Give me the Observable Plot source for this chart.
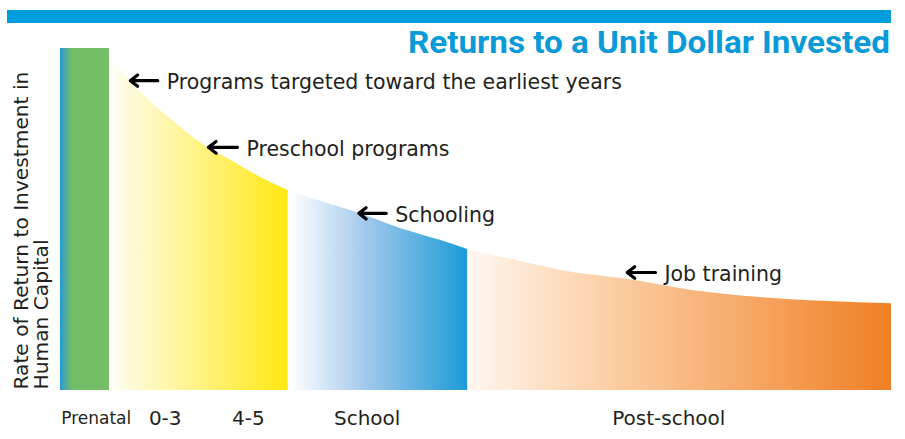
<!DOCTYPE html>
<html><head><meta charset="utf-8">
<script src="https://cdn.jsdelivr.net/npm/d3@7"></script>
<script src="https://cdn.jsdelivr.net/npm/@observablehq/plot@0.6"></script>
<style>
body{margin:0;background:#fff;}
#wrap{position:relative;width:905px;height:439px;overflow:hidden;}
#chart{position:absolute;left:0;top:0;}
#bar{position:absolute;left:7px;top:10px;width:884px;height:13px;background:#009ddc;}
#title{position:absolute;left:0;top:0;}
</style></head><body>
<div id="wrap">
<div id="chart"></div>
<div id="bar"></div>
<svg id="title" width="905" height="60"><text x="408" y="53" textLength="482" lengthAdjust="spacingAndGlyphs" font-family="Roboto" font-weight="bold" font-size="31" fill="#0a9ad8">Returns to a Unit Dollar Invested</text></svg>
</div>
<script>
// Stage position units (0–100 along the life cycle axis) and rate of return (0–100)
const prenatalStart = 0, prenatalEnd = 5.9, prenatalValue = 100;
const earlyX = [5.95, 7.2, 8.4, 10.8, 13.2, 16.8, 20.5, 24.1, 27.4];
const earlyY = [97.4, 93.6, 90.4, 84.5, 79.5, 72.5, 67.3, 62.3, 58.5];
const schoolX = [27.7, 31.3, 35.9, 40.9, 45.7, 49.0];
const schoolY = [58.2, 55.3, 51.8, 47.4, 43.9, 41.2];
const postX = [49.3, 55.4, 60.2, 68.2, 76.2, 84.2, 92.3, 100];
const postY = [40.9, 37.7, 35.1, 32.5, 29.2, 27.2, 26.0, 25.4];

const stageLabels = ["Prenatal", "0-3", "4-5", "School", "Post-school"];
const stageLabelX = [4.3, 12.6, 22.6, 36.9, 73.2];
const stageLabelSize = [17, 20, 20, 20, 20];

const annotations = ["Programs targeted toward the earliest years", "Preschool programs", "Schooling", "Job training"];
const arrowTipX = [8.4, 17.8, 35.9, 68.2];
const arrowTailX = [11.7, 21.3, 39.2, 71.6];
const arrowY = [90.6, 71.1, 51.8, 34.5];

const yTitle = "Rate of Return to Investment in\nHuman Capital";

const toRows = (xs, ys) => xs.map((x, i) => ({x, y: ys[i]}));
const early = toRows(earlyX, earlyY);
const school = toRows(schoolX, schoolY);
const post = toRows(postX, postY);
const notes = annotations.map((t, i) => ({t, x1: arrowTailX[i], x2: arrowTipX[i], y: arrowY[i]}));
const labels = stageLabels.map((t, i) => ({t, x: stageLabelX[i], s: stageLabelSize[i]}));

const font = "DejaVu Sans";
const ink = "#231f20";

const chart = Plot.plot({
  width: 905, height: 439,
  marginLeft: 60, marginRight: 14, marginTop: 48, marginBottom: 49,
  x: {domain: [0, 100], axis: null},
  y: {domain: [0, 100], axis: null},
  style: {overflow: "visible", background: "transparent"},
  marks: [
    Plot.rect([{x1: prenatalStart, x2: prenatalEnd, y: prenatalValue}], {x1: "x1", x2: "x2", y1: 0, y2: "y", fill: "url(#gGreen)"}),
    Plot.areaY(early, {x: "x", y: "y", fill: "url(#gYellow)", curve: "monotone-x"}),
    Plot.areaY(school, {x: "x", y: "y", fill: "url(#gBlue)", curve: "monotone-x"}),
    Plot.areaY(post, {x: "x", y: "y", fill: "url(#gOrange)", curve: "monotone-x"}),
    Plot.arrow(notes, {x1: "x1", x2: "x2", y1: "y", y2: "y", stroke: "#000", strokeWidth: 3.2, headLength: 10, headAngle: 75}),
    Plot.text(notes, {x: "x1", y: "y", text: "t", textAnchor: "start", dx: 9, dy: 2, fontSize: 20.5, fontFamily: font, fill: ink}),
    Plot.text(labels.filter(d => d.s === 17), {x: "x", y: 0, text: "t", lineAnchor: "bottom", dy: 33, fontSize: 17, fontFamily: font, fill: ink}),
    Plot.text(labels.filter(d => d.s !== 17), {x: "x", y: 0, text: "t", lineAnchor: "bottom", dy: 34, fontSize: 20, fontFamily: font, fill: ink}),
    Plot.text([yTitle], {frameAnchor: "bottom-left", text: d => d, rotate: -90, textAnchor: "start", lineAnchor: "top", dx: -47, dy: -1, fontSize: 20.2, lineHeight: 1.0, fontFamily: font, fill: ink})
  ]
});

const defs = d3.select(chart).insert("defs", ":first-child");
function grad(id, stops) {
  const g = defs.append("linearGradient").attr("id", id).attr("x1", 0).attr("x2", 1).attr("y1", 0).attr("y2", 0);
  stops.forEach(([o, c]) => g.append("stop").attr("offset", o).attr("stop-color", c));
}
grad("gGreen", [[0, "#1b98d8"], [0.06, "#3fa3b8"], [0.25, "#74be67"], [1, "#74be68"]]);
grad("gYellow", [[0, "#ffffff"], [0.08, "#fffbe2"], [0.55, "#fff17a"], [1, "#ffe80f"]]);
grad("gBlue", [[0, "#ffffff"], [0.45, "#9dc6ea"], [1, "#1c9bd7"]]);
grad("gOrange", [[0, "#fff6ef"], [0.3, "#fcd2ab"], [1, "#f07f23"]]);

document.getElementById("chart").appendChild(chart);
</script>
</body></html>
